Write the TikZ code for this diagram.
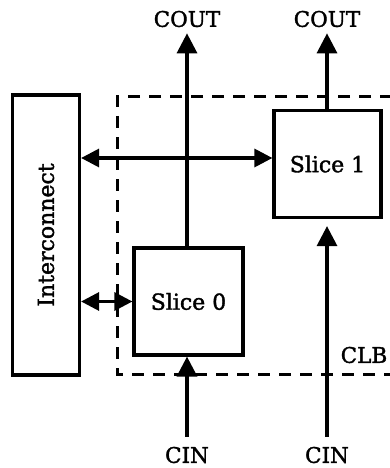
\documentclass[tikz,border=0pt]{standalone}
\usepackage{fontspec}
\setmainfont{DejaVu Serif}
\newfontfamily\labelfont[FakeBold=1.6]{DejaVu Serif}
\usepackage{tikz}
\usetikzlibrary{arrows.meta, positioning}
\tikzset{
    block/.style = {rectangle, draw=black, line width=3.2pt, fill=white, text centered, font=\labelfont\fontsize{22}{24}\selectfont},
    tag/.style = {font=\labelfont\fontsize{21.5}{24}\selectfont, inner sep=0pt},
    arrow/.style = {line width=3.2pt, -{Triangle[width=20pt, length=20pt]}},
    dblarrow/.style = {line width=3.2pt, {Triangle[width=18pt, length=18pt]}-{Triangle[width=18pt, length=18pt]}},
    region/.style = {line width=3pt, dash pattern=on 12pt off 9pt}
}

\begin{document}
\begin{tikzpicture}[x=1pt, y=-1pt]
    \useasboundingbox (0,0) rectangle (390,468);
    % Region
    \draw [region] (392,97) -- (117,97) -- (117,374) -- (392,374);

    % Nodes
    \node (inter) [block, minimum width=67pt, minimum height=280pt] at (46,235) {\rotatebox{90}{Interconnect}};
    \node (s0) [block, minimum width=109pt, minimum height=107pt] at (188.5,301.5) {Slice 0};
    \node (s1) [block, minimum width=107pt, minimum height=107pt] at (327.5,164) {Slice 1};
    \node (cout0) [tag] at (187,19) {COUT};
    \node (cout1) [tag] at (327,19) {COUT};
    \node (cin0) [tag] at (187,455) {CIN};
    \node (cin1) [tag] at (327,455) {CIN};
    \node (clb) [tag] at (364,355) {CLB};

    % Arrows
    \draw [arrow] (s0.north -| cout0) -- ([yshift=-6pt]cout0.south);
    \draw [arrow] (s1.north -| cout1) -- ([yshift=-6pt]cout1.south);
    \draw [arrow] ([yshift=10pt]cin0.north) -- (s0.south -| cin0);
    \draw [arrow] ([yshift=10pt]cin1.north) -- ([yshift=-7pt]s1.south -| cin1);
    \draw [dblarrow] (inter.east |- 0,158) -- (s1.west |- 0,158);
    \draw [dblarrow] (inter.east |- s0.west) -- (s0.west);
\end{tikzpicture}
\end{document}
